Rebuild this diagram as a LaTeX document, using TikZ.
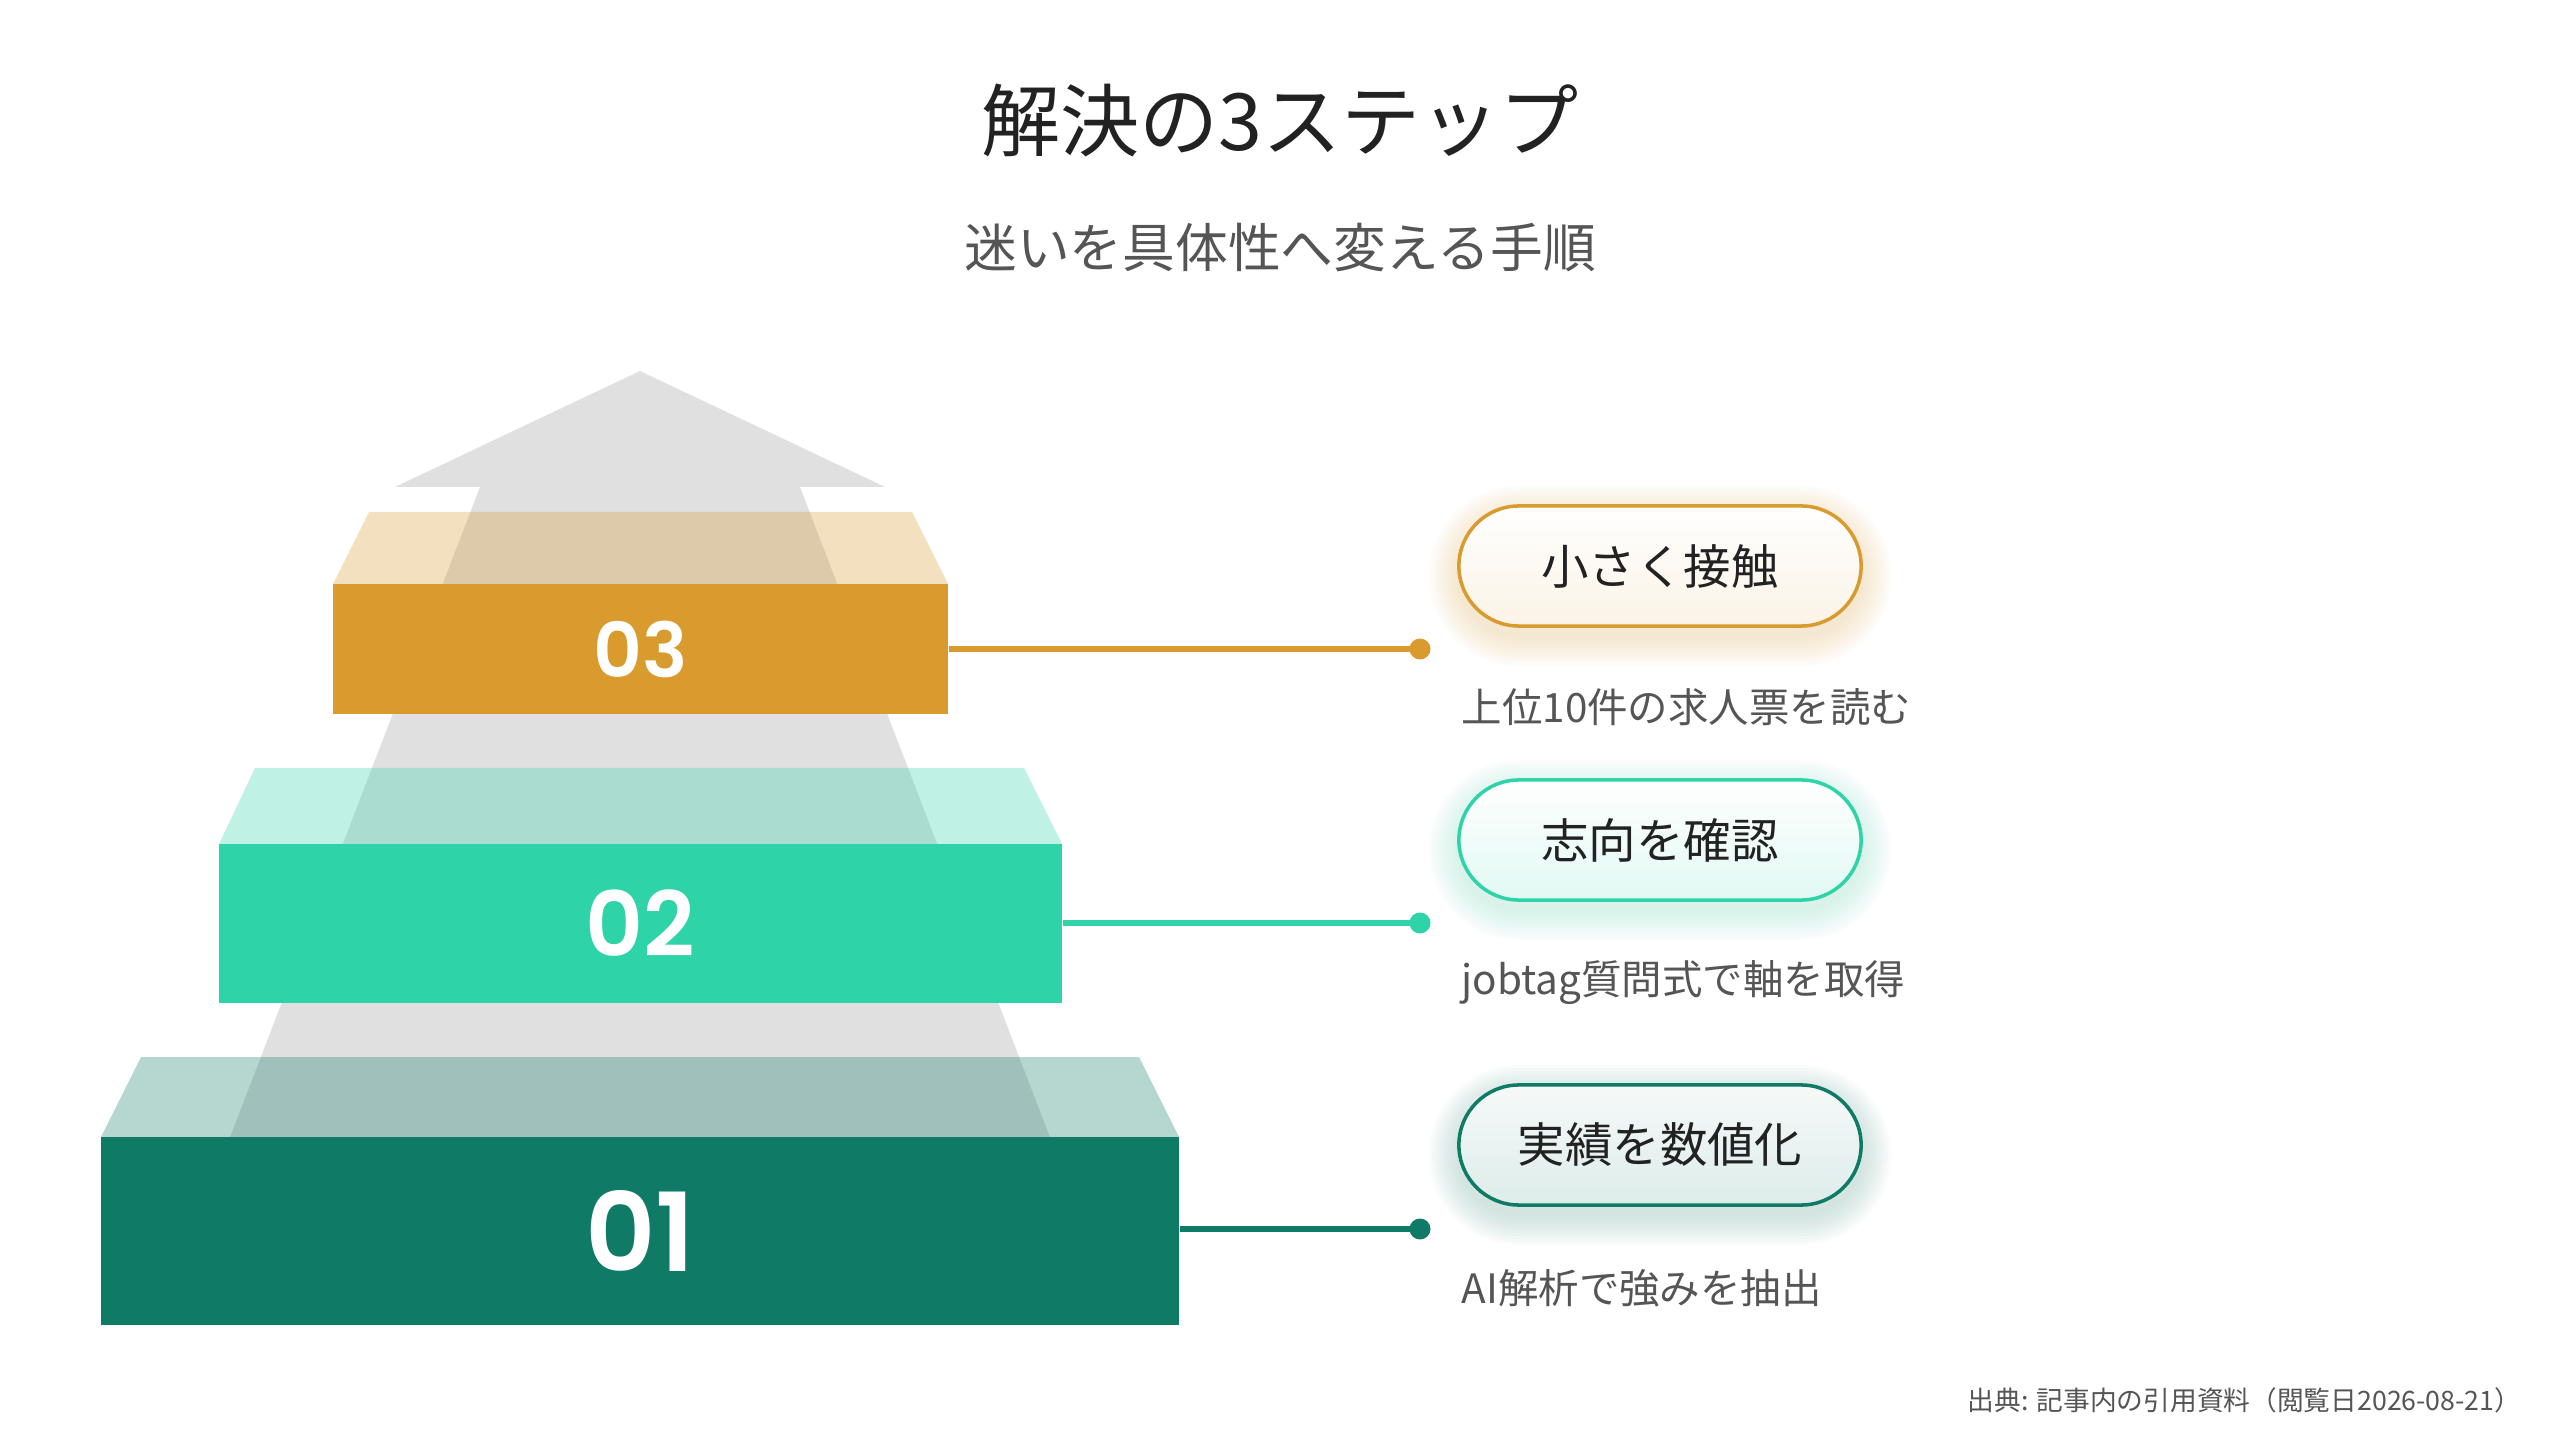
\documentclass[tikz,border=0pt]{standalone}
\usepackage{fontspec}
\setmainfont{Noto Sans CJK JP}
\newfontfamily\numfont{Poppins}[BoldFont={Poppins SemiBold}]
\definecolor{gold}{HTML}{D99A2E}
\definecolor{mint}{HTML}{2ED3A8}
\definecolor{forest}{HTML}{0F7A66}
\definecolor{arrowgray}{HTML}{E0E0E0}
\definecolor{titlec}{HTML}{222222}
\definecolor{subc}{HTML}{555555}
\definecolor{glowgold}{HTML}{F0D6A4}
\definecolor{glowmint}{HTML}{B4EBDA}
\definecolor{glowforest}{HTML}{A9CDC4}
\tikzset{
  stepfront/.style={inner sep=0pt, text=white, font=\numfont\bfseries},
  pill/.style={rounded corners=0.6cm, minimum width=4.02cm, minimum height=1.2cm,
    line width=1pt, inner sep=0pt, text=titlec, font=\fontsize{13.5}{16}\selectfont},
  desc/.style={anchor=west, inner sep=0pt, text=subc, font=\fontsize{11.5}{14}\selectfont},
  conn/.style={line width=1.8pt},
}
\newcommand\pillglow[3]{%
  \foreach \k in {1,...,10}{%
    \pgfmathsetmacro\e{3*\k}%
    \pgfmathsetlengthmacro\rc{(60+\e)*0.01cm}%
    \fill[#3, opacity=0.06, rounded corners=\rc] (#1-201-\e, #2-60-\e+10) rectangle (#1+201+\e, #2+60+\e+10);
  }%
}
\begin{document}
\begin{tikzpicture}[x=0.01cm,y=-0.01cm]
\useasboundingbox (0,0) rectangle (2560,1440);
\fill[white] (0,0) rectangle (2560,1440);

% titles
\node[font=\fontsize{22.5}{27}\selectfont, text=titlec] (title) at (1280,120) {解決の3ステップ};
\node[font=\fontsize{15}{18}\selectfont, text=subc] (subtitle) at (1280,248) {迷いを具体性へ変える手順};

% big arrow
\fill[arrowgray] (640,371) -- (885,487) -- (800,487) -- (1051,1140) -- (229,1140) -- (480,487) -- (395,487) -- cycle;

% step 03
\fill[gold, opacity=0.3] (333,584) -- (369,512) -- (912,512) -- (948,584) -- cycle;
\node[stepfront, fill=gold, minimum width=6.15cm, minimum height=1.30cm, font=\numfont\bfseries\fontsize{21.5}{24}\selectfont] (s3) at (640.5,649) {03};

% step 02
\fill[mint, opacity=0.3] (219,844) -- (255,768) -- (1024,768) -- (1062,844) -- cycle;
\node[stepfront, fill=mint, minimum width=8.43cm, minimum height=1.59cm, font=\numfont\bfseries\fontsize{25.5}{29}\selectfont] (s2) at (640.5,923.5) {02};

% step 01
\fill[forest, opacity=0.3] (101,1137) -- (141,1057) -- (1139,1057) -- (1179,1137) -- cycle;
\node[stepfront, fill=forest, minimum width=10.78cm, minimum height=1.88cm, font=\numfont\bfseries\fontsize{31}{35}\selectfont] (s1) at (640,1231) {01};

% connectors
\coordinate (d3) at (1420,649);
\coordinate (d2) at (1420,923);
\coordinate (d1) at (1420,1229);
\draw[conn, gold] (s3.east |- d3) -- (d3);
\fill[gold] (d3) circle[radius=10.5];
\draw[conn, mint] (s2.east |- d2) -- (d2);
\fill[mint] (d2) circle[radius=10.5];
\draw[conn, forest] (s1.east |- d1) -- (d1);
\fill[forest] (d1) circle[radius=10.5];

% pills
\pillglow{1660}{566}{glowgold}
\node[pill, draw=gold, top color=white, bottom color=gold!12] (p3) at (1660,566) {小さく接触};
\pillglow{1660}{840}{glowmint}
\node[pill, draw=mint, top color=white, bottom color=mint!14] (p2) at (1660,840) {志向を確認};
\pillglow{1660}{1145}{glowforest}
\node[pill, draw=forest, top color=forest!4, bottom color=forest!14] (p1) at (1660,1145) {実績を数値化};

% descriptions
\node[desc] (t3) at (1461,707) {上位10件の求人票を読む};
\node[desc] (t2) at (1461,983) {jobtag質問式で軸を取得};
\node[desc] (t1) at (1461,1288) {AI解析で強みを抽出};

% source
\node[anchor=east, inner sep=0pt, text=subc, font=\fontsize{7.6}{9}\selectfont] (src) at (2522,1400) {出典: 記事内の引用資料（閲覧日2026-08-21）};
\end{tikzpicture}
\end{document}
